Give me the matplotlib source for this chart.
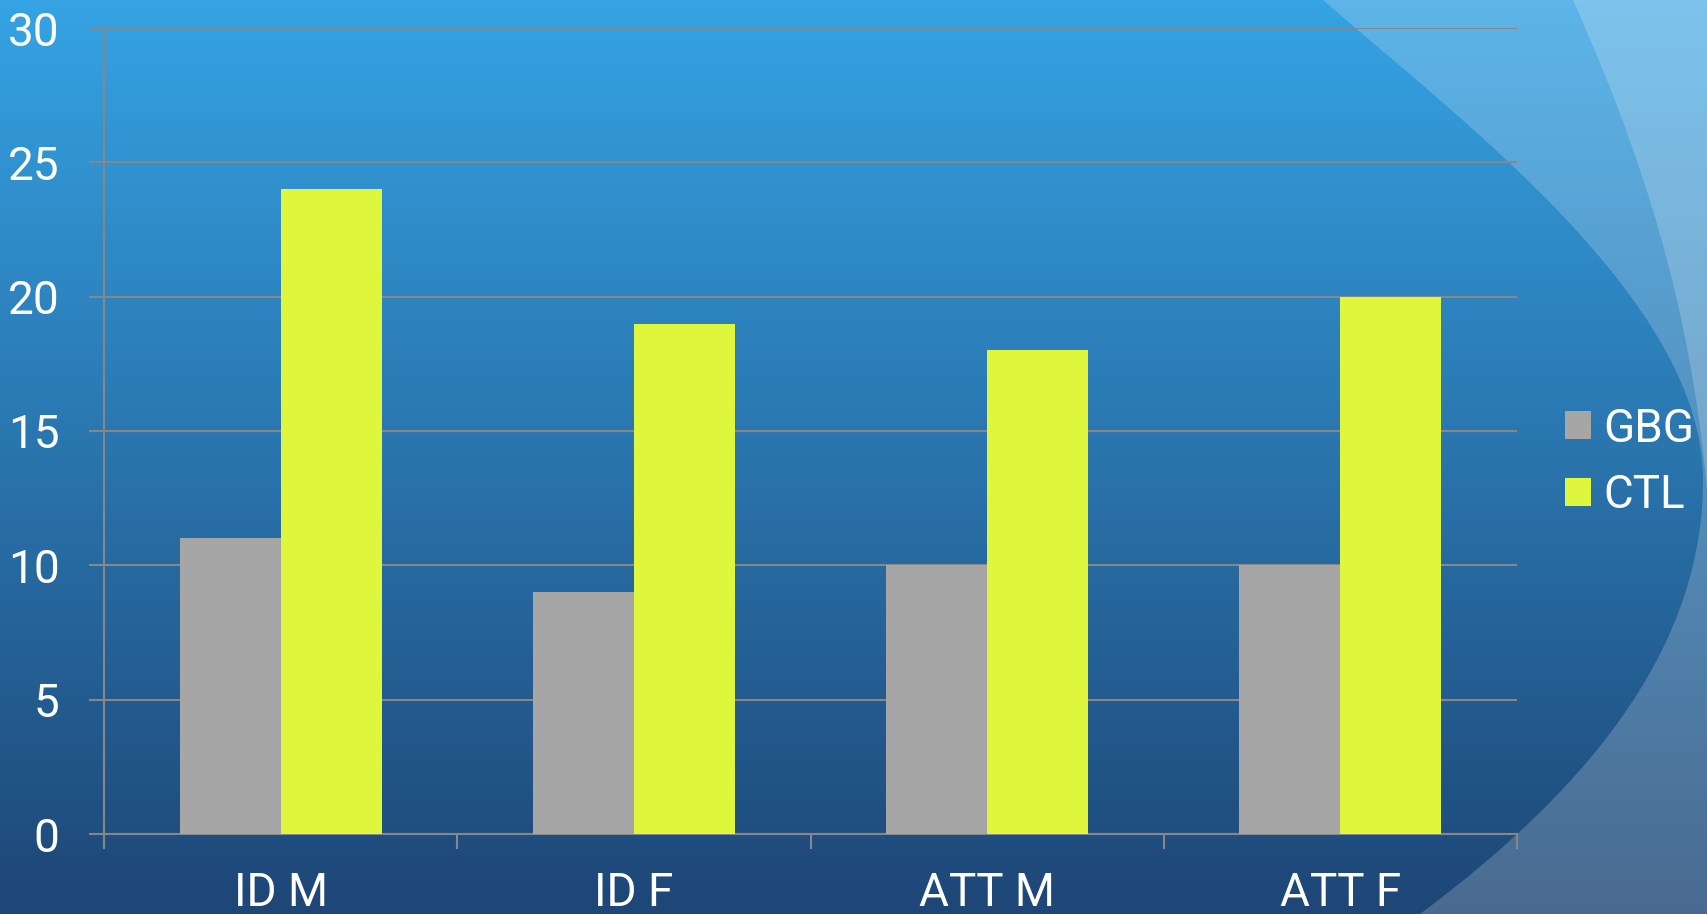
"""Grouped bar chart GBG vs CTL on a blue slide-style background."""

import matplotlib
matplotlib.use("Agg")
import matplotlib.pyplot as plt
import numpy as np
from matplotlib.colors import LinearSegmentedColormap
from matplotlib.patches import PathPatch
from matplotlib.path import Path

# data
categories = ["ID M", "ID F", "ATT M", "ATT F"]
gbg = [11, 9, 10, 10]
ctl = [24, 19, 18, 20]
series_names = ["GBG", "CTL"]

# palette
GREY_BAR = "#A6A6A6"
LIME_BAR = "#DEF63C"
GRID = "#878787"
TOP_BLUE = "#35A3E4"
BOTTOM_BLUE = "#1E4676"
WHITE = "#FFFFFF"

W, H = 1707, 914
plt.rcParams["font.family"] = ["Roboto", "DejaVu Sans"]

fig = plt.figure(figsize=(W / 100, H / 100), dpi=100)

# background: vertical gradient plus the lighter swooshes on the right
bg = fig.add_axes([0, 0, 1, 1], zorder=-2)
bg.set_xlim(0, W)
bg.set_ylim(H, 0)
bg.axis("off")
cmap = LinearSegmentedColormap.from_list("bg", [TOP_BLUE, BOTTOM_BLUE])
grad = np.linspace(0, 1, 256).reshape(-1, 1)
bg.imshow(grad, cmap=cmap, aspect="auto", extent=(0, W, H, 0))

swoosh1 = Path(
    [(1323, 0), (1460, 120), (1703, 300), (1703, 480),
     (1703, 640), (1600, 780), (1420, 914),
     (W, H), (W, 0), (1323, 0)],
    [Path.MOVETO, Path.CURVE4, Path.CURVE4, Path.CURVE4,
     Path.CURVE4, Path.CURVE4, Path.CURVE4,
     Path.LINETO, Path.LINETO, Path.CLOSEPOLY],
)
bg.add_patch(PathPatch(swoosh1, facecolor=WHITE, edgecolor="none", alpha=0.2))

swoosh2 = Path(
    [(1573, 0), (1640, 150), (1690, 300), (W, 490), (W, 0), (1573, 0)],
    [Path.MOVETO, Path.CURVE4, Path.CURVE4, Path.CURVE4, Path.LINETO, Path.CLOSEPOLY],
)
bg.add_patch(PathPatch(swoosh2, facecolor=WHITE, edgecolor="none", alpha=0.2))

# chart
ax = fig.add_axes([104 / W, 1 - 834 / H, (1517 - 104) / W, (834 - 28) / H])
ax.set_facecolor("none")

x = np.arange(len(categories))
width = 0.286
ax.bar(x - width / 2, gbg, width, color=GREY_BAR, label=series_names[0], zorder=3)
ax.bar(x + width / 2, ctl, width, color=LIME_BAR, label=series_names[1], zorder=3)

ax.set_xlim(-0.5, len(categories) - 0.5)
ax.set_ylim(0, 30)
ax.set_yticks(range(0, 31, 5))
ax.yaxis.grid(True, color=GRID, linewidth=1.5, zorder=0)

ax.set_xticks(x)
ax.set_xticklabels(categories)
ax.set_xticks(np.arange(len(categories) + 1) - 0.5, minor=True)
ax.tick_params(axis="x", which="major", length=0, pad=27, labelsize=33, labelcolor=WHITE)
ax.tick_params(axis="x", which="minor", length=11, width=1.5, color=GRID, direction="out")
ax.tick_params(axis="y", length=11, width=1.5, color=GRID, pad=21, labelsize=33, labelcolor=WHITE)

for side in ["top", "right"]:
    ax.spines[side].set_visible(False)
for side in ["left", "bottom"]:
    ax.spines[side].set_color(GRID)
    ax.spines[side].set_linewidth(1.5)

leg = fig.legend(
    loc="center left", bbox_to_anchor=(1565 / W, 1 - 462 / H),
    frameon=False, fontsize=33, handlelength=0.57, handleheight=0.57,
    handletextpad=0.26, labelspacing=0.5, borderpad=0, borderaxespad=0,
)
for t in leg.get_texts():
    t.set_color(WHITE)

fig.savefig("out.png", dpi=100)
